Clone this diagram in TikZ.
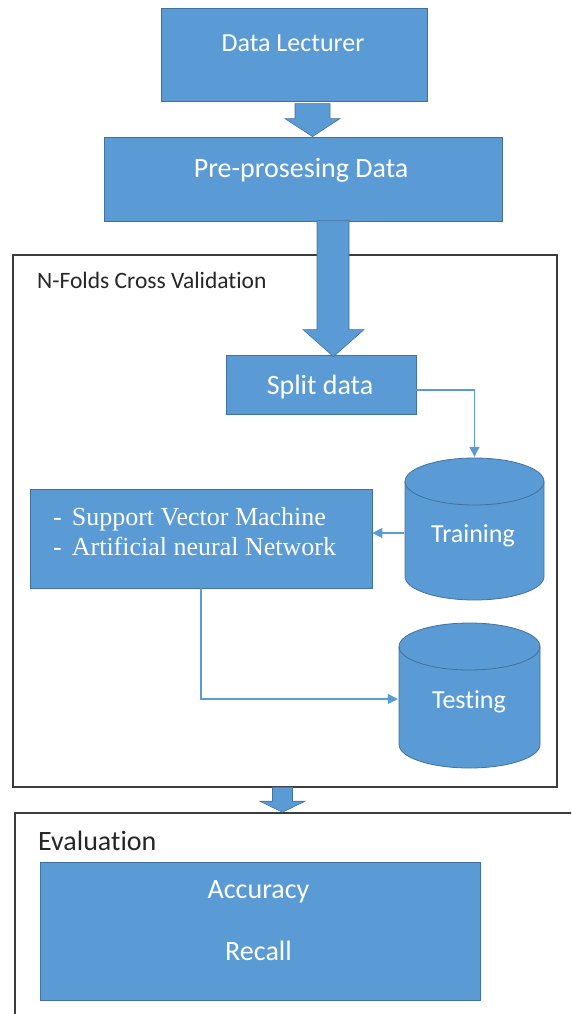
\documentclass[tikz,border=0pt]{standalone}
\usepackage{fontspec}
\setmainfont{Carlito}[RawFeature={-liga}]
\newfontfamily\tnr{Liberation Serif}
\usetikzlibrary{arrows.meta,calc}
\definecolor{blu}{RGB}{91,155,213}
\definecolor{bord}{RGB}{65,113,156}
\definecolor{frm}{RGB}{60,60,60}
\tikzset{
  box/.style={draw=bord, line width=0.8pt, fill=blu, inner sep=0pt},
  wtxt/.style={text=white, anchor=base, inner sep=0pt},
  ktxt/.style={text=black!85, anchor=base west, inner sep=0pt},
  stxt/.style={text=white, anchor=base west, inner sep=0pt, font=\tnr\fontsize{26}{30}\selectfont},
  conn/.style={draw=blu, line width=1.5pt, -{Triangle[length=10pt,width=10pt]}},
  barrow/.style={fill=blu, draw=bord, line width=0.6pt},
  framebox/.style={draw=frm, line width=1.6pt, fill=white, inner sep=0pt},
  cyl/.style 2 args={minimum width=#1+2pt, minimum height=#2+2pt, inner sep=0pt,
    path picture={
      \path[fill=blu, draw=bord, line width=0.8pt]
        ([shift={(1pt,-24.5pt)}]path picture bounding box.north west)
        -- ([shift={(1pt,24.5pt)}]path picture bounding box.south west)
        arc[start angle=180, end angle=360, x radius=#1/2, y radius=23.5pt]
        -- ([shift={(-1pt,-24.5pt)}]path picture bounding box.north east)
        arc[start angle=0, end angle=180, x radius=#1/2, y radius=23.5pt]
        -- cycle;
      \draw[bord, line width=0.8pt]
        ([shift={(1pt,-24.5pt)}]path picture bounding box.north west)
        arc[start angle=180, end angle=360, x radius=#1/2, y radius=23.5pt];
    }},
}
\begin{document}
\begin{tikzpicture}[x=1pt,y=-1pt]
\path[use as bounding box, clip] (0,0) rectangle (571,1014);

% top boxes
\node[box, minimum width=266pt, minimum height=93pt] (dl) at (294,54.5) {};
\node[wtxt, font=\fontsize{26}{30}\selectfont] (dlt) at (293,52) {Data Lecturer};
\node[box, minimum width=398pt, minimum height=84pt] (pp) at (303,179) {};
\node[wtxt, font=\fontsize{28}{32}\selectfont] (ppt) at (301,177) {Pre-prosesing Data};

% frames
\node[framebox, minimum width=544pt, minimum height=532pt] (nf) at (285,521) {};
\node[ktxt, font=\fontsize{23.5}{28}\selectfont] (nft) at (37,288) {N-Folds Cross Validation};
\node[framebox, minimum width=585pt, minimum height=227pt] (ev) at (307.5,926.5) {};
\node[ktxt, font=\fontsize{28}{32}\selectfont] (evt) at (38,850) {Evaluation};

% inner nodes
\node[box, minimum width=190pt, minimum height=59pt] (split) at (321,384.5) {};
\node[wtxt, font=\fontsize{28}{32}\selectfont] (splitt) at (320,394) {Split data};

\node[cyl={139pt}{142pt}] (train) at (474.5,529) {};
\node[wtxt, font=\fontsize{26}{30}\selectfont] (traint) at (473,542) {Training};

\node[box, minimum width=342pt, minimum height=99pt] (svm) at (201,538.5) {};
\node[stxt] (svm1) at (53,525) {-\hspace{10pt}Support Vector Machine};
\node[stxt] (svm2) at (53,555) {-\hspace{10pt}Artificial neural Network};

\node[cyl={141pt}{145pt}] (test) at (469.5,695.5) {};
\node[wtxt, font=\fontsize{26}{30}\selectfont] (testt) at (469,708) {Testing};

\node[box, minimum width=440pt, minimum height=138pt] (acc) at (260,931) {};
\node[wtxt, font=\fontsize{28}{32}\selectfont] (acct) at (258.5,898) {Accuracy};
\node[wtxt, font=\fontsize{28}{32}\selectfont] (rect) at (258.5,960) {Recall};

% block arrows
\path[barrow] ($(pp.north)+(9.5,0)$) -- ++(27.5,-18) -- ++(-10,0) -- ++(0,-15)
  -- ++(-35,0) -- ++(0,15) -- ++(-10,0) -- cycle;
\path[barrow] ($(split.north)+(12.5,2)$) -- ++(30.5,-27) -- ++(-15,0) -- ++(0,-109)
  -- ++(-32,0) -- ++(0,109) -- ++(-14,0) -- cycle;
\path[barrow] ($(ev.north)+(-25,0)$) -- ++(22.5,-11) -- ++(-12.5,0) -- ++(0,-14)
  -- ++(-20,0) -- ++(0,14) -- ++(-12.5,0) -- cycle;

% connectors
\draw[conn] ([yshift=-5.5pt]split.east) -| (train.north);
\draw[conn] ([yshift=-4pt]train.west) -- ([yshift=-4pt]train.west -| svm.east);
\draw[conn] (svm.south) |- ([yshift=-3.5pt]test.west);
\end{tikzpicture}
\end{document}
